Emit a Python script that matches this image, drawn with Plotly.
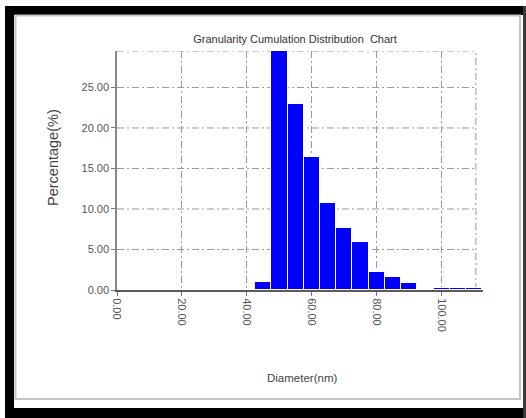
import plotly.graph_objects as go

# ---- data ----
bin_centers = [45, 50, 55, 60, 65, 70, 75, 80, 85, 90, 95, 100, 105, 110]
percentages = [1.0, 29.5, 23.0, 16.4, 10.8, 7.6, 5.9, 2.25, 1.65, 0.83, 0.0, 0.2, 0.2, 0.3]
x_ticks = [0, 20, 40, 60, 80, 100]
x_tick_labels = ["0.00", "20.00", "40.00", "60.00", "80.00", "100.00"]
y_ticks = [0, 5, 10, 15, 20, 25]
y_tick_labels = ["0.00", "5.00", "10.00", "15.00", "20.00", "25.00"]
x_grid_end = 110.5
y_top = 29.5

W, H = 526, 418
PL, PR, PT, PB = 117, 483, 51, 290   # plot area in pixels


def px(xp):
    return (xp - PL) / (PR - PL)


def py(yp):
    return (PB - yp) / (PB - PT)


fig = go.Figure()
fig.add_trace(go.Bar(
    x=bin_centers, y=percentages, width=5,
    marker=dict(color="#0000ff", line=dict(color="#ffffff", width=1)),
    hoverinfo="x+y",
))

grid_col = "#9a9a9a"
dash = "7px,3px,2px,3px"
shapes = []
# horizontal gridlines (ending at right dash-dot border)
for v in y_ticks[1:] + [y_top]:
    shapes.append(dict(type="line", xref="x", yref="y", x0=0, x1=x_grid_end, y0=v, y1=v,
                       line=dict(color=grid_col, width=1, dash=dash), layer="below"))
# right dash-dot border
shapes.append(dict(type="line", xref="x", yref="y", x0=x_grid_end, x1=x_grid_end, y0=0, y1=y_top,
                   line=dict(color=grid_col, width=1, dash=dash), layer="below"))


# outer frame (black bands) and inner gray frame
def rect_px(x0, y0, x1, y1, color):
    return dict(type="rect", xref="paper", yref="paper",
                x0=px(x0), x1=px(x1), y0=py(y1), y1=py(y0),
                fillcolor=color, line=dict(width=0), layer="above")


shapes += [
    rect_px(5, 6, 523, 15, "#000000"),
    rect_px(5, 6, 14, 418, "#000000"),
    rect_px(5, 408, 526, 418, "#000000"),
    rect_px(523, 6, 526, 418, "#3a3a3a"),
]
shapes.append(dict(type="rect", xref="paper", yref="paper",
                   x0=px(15.5), x1=px(520), y0=py(399), y1=py(15.5),
                   line=dict(color="#c4c4c4", width=2), layer="above"))

fig.update_layout(
    width=W, height=H,
    margin=dict(l=PL, r=W - PR, t=PT, b=H - PB, pad=0),
    paper_bgcolor="white", plot_bgcolor="white",
    showlegend=False,
    bargap=0,
    title=dict(text="Granularity Cumulation Distribution  Chart",
               x=295 / W, xanchor="center", y=1 - 39 / H, yanchor="middle",
               font=dict(family="Liberation Sans Narrow, Arial", size=11, color="#333333")),
    shapes=shapes,
    annotations=[
        dict(text="Diameter(nm)", xref="paper", yref="paper", x=px(302), y=py(378),
             xanchor="center", yanchor="middle", showarrow=False,
             font=dict(family="Liberation Sans Narrow, Arial", size=11.5, color="#444444")),
        dict(text="Percentage(%)", xref="paper", yref="paper", x=px(53), y=py(158),
             xanchor="center", yanchor="middle", showarrow=False, textangle=-90,
             font=dict(family="Arial, Liberation Sans", size=14.5, color="#444444")),
    ],
)

fig.update_xaxes(
    range=[0, 112.7], tickmode="array", tickvals=x_ticks, ticktext=x_tick_labels,
    tickangle=90, tickfont=dict(family="Arial, Liberation Sans", size=11, color="#555555"),
    ticks="outside", ticklen=4, tickcolor="#777777",
    showgrid=True, gridcolor=grid_col, griddash=dash, gridwidth=1,
    showline=True, linecolor="#5a5a5a", linewidth=2,
    zeroline=False, fixedrange=True,
)
fig.update_yaxes(
    range=[0, y_top], tickmode="array", tickvals=y_ticks, ticktext=y_tick_labels,
    tickfont=dict(family="Liberation Sans Narrow, Arial", size=11, color="#555555"),
    ticks="outside", ticklen=4, tickcolor="#777777",
    showgrid=False, showline=True, linecolor="#888888", linewidth=1.5,
    zeroline=False, fixedrange=True,
)

fig.write_html("out.html", config={"displayModeBar": False})
